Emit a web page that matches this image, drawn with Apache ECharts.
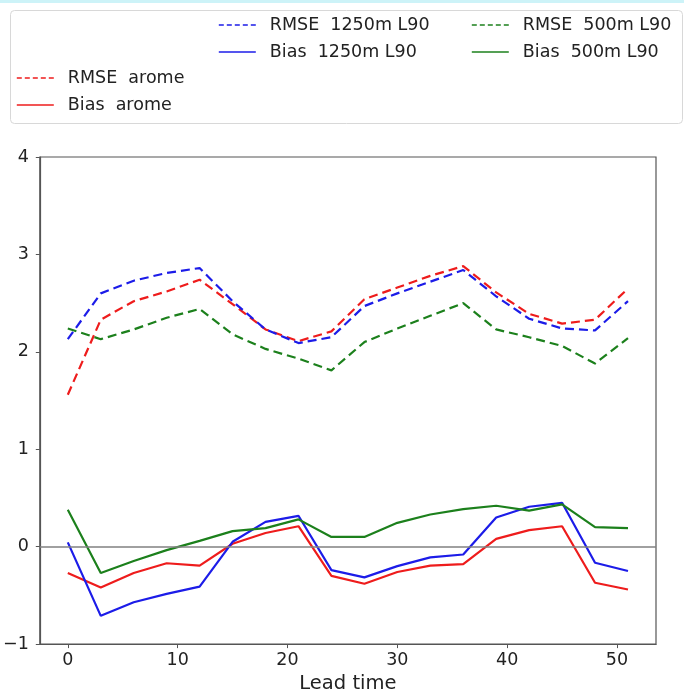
<!DOCTYPE html>
<html>
<head>
<meta charset="utf-8">
<script src="https://cdn.jsdelivr.net/npm/echarts@6/dist/echarts.min.js"></script>
<style>
html,body{margin:0;padding:0;background:#fff;}
#chart{width:684px;height:699px;}
</style>
</head>
<body>
<div id="chart"></div>
<script>
const leadTimes = [0,3,6,9,12,15,18,21,24,27,30,33,36,39,42,45,48,51];
const rmseArome = [1.56,2.33,2.52,2.62,2.74,2.49,2.23,2.11,2.21,2.54,2.66,2.78,2.88,2.61,2.39,2.29,2.33,2.65];
const biasArome = [-0.27,-0.42,-0.27,-0.17,-0.195,0.03,0.14,0.21,-0.30,-0.38,-0.26,-0.195,-0.18,0.08,0.17,0.21,-0.37,-0.44];
const rmse1250 = [2.13,2.60,2.73,2.81,2.86,2.52,2.23,2.09,2.15,2.47,2.60,2.72,2.84,2.57,2.34,2.24,2.22,2.52];
const bias1250 = [0.044,-0.71,-0.57,-0.485,-0.41,0.05,0.255,0.317,-0.24,-0.315,-0.20,-0.11,-0.08,0.30,0.41,0.45,-0.165,-0.25];
const rmse500 = [2.24,2.13,2.23,2.35,2.44,2.18,2.03,1.93,1.81,2.10,2.24,2.37,2.50,2.23,2.15,2.06,1.88,2.14];
const bias500 = [0.38,-0.27,-0.147,-0.035,0.06,0.16,0.19,0.28,0.10,0.10,0.245,0.33,0.385,0.42,0.37,0.435,0.20,0.19];
const xTicks = [0,10,20,30,40,50];
const yTicks = [-1,0,1,2,3,4];

const RED = '#ee1c1c', BLUE = '#1c1ce8', GREEN = '#1c801c';
const FONT = 'DejaVu Sans';

function pairs(vals){ return leadTimes.map((t,i)=>[t, vals[i]]); }
function mkSeries(name, vals, color, dashed){
  return {
    name: name, type: 'line', data: pairs(vals), symbol: 'none', showSymbol: false,
    legendIcon: 'none',
    lineStyle: {color: color, width: 2.2, type: dashed ? [9,5] : 'solid'},
    itemStyle: {color: color},
    animation: false, z: 3
  };
}
function mkLegend(name, left, top, dashed){
  return {
    data: [name], left: left, top: top, padding: 0, itemWidth: 37, itemHeight: 14,
    selectedMode: false,
    itemStyle: {opacity: 0, borderWidth: 0},
    lineStyle: {width: 1.6, type: dashed ? [5,3] : 'solid', opacity: 1},
    textStyle: {fontFamily: FONT, fontSize: 17.5, color: '#222', padding: [0,0,0,9]}
  };
}

const series = [
  mkSeries('RMSE  arome', rmseArome, RED, true),
  mkSeries('Bias  arome', biasArome, RED, false),
  mkSeries('RMSE  1250m L90', rmse1250, BLUE, true),
  mkSeries('Bias  1250m L90', bias1250, BLUE, false),
  mkSeries('RMSE  500m L90', rmse500, GREEN, true),
  mkSeries('Bias  500m L90', bias500, GREEN, false)
];
series[0].markLine = {
  silent: true, symbol: 'none', label: {show: false},
  lineStyle: {color: '#808080', width: 1.5, type: 'solid'},
  data: [{yAxis: 0}], animation: false
};
series[0].z = 2;

const chart = echarts.init(document.getElementById('chart'), null, {renderer: 'canvas'});
chart.setOption({
  backgroundColor: '#fff',
  animation: false,
  graphic: [
    {type: 'rect', left: 0, top: 0, shape: {width: 684, height: 3}, style: {fill: '#cdf3f8'}, z: -10},
    {type: 'rect', left: 10, top: 10, shape: {width: 672, height: 113, r: 4}, style: {fill: '#fff', stroke: '#d8d8d8', lineWidth: 1}, z: -10}
  ],
  legend: [
    mkLegend('RMSE  1250m L90', 218, 16, true),
    mkLegend('Bias  1250m L90', 218, 43, false),
    mkLegend('RMSE  500m L90', 471, 16, true),
    mkLegend('Bias  500m L90', 471, 43, false),
    mkLegend('RMSE  arome', 16, 69, true),
    mkLegend('Bias  arome', 16, 96, false)
  ],
  grid: {left: 38, right: 28, top: 157, bottom: 53, show: true, borderColor: '#555', borderWidth: 1.2, containLabel: false},
  xAxis: {
    type: 'value', min: -2.55, max: 53.55,
    name: 'Lead time', nameLocation: 'middle', nameGap: 25,
    nameTextStyle: {fontFamily: FONT, fontSize: 19.5, color: '#222'},
    axisLine: {show: true, onZero: false, lineStyle: {color: '#555', width: 1.2}},
    axisTick: {show: true, length: 4, inside: false, customValues: xTicks, lineStyle: {color: '#555'}},
    axisLabel: {customValues: xTicks, margin: 7, fontFamily: FONT, fontSize: 17.5, color: '#222'},
    splitLine: {show: false}
  },
  yAxis: {
    type: 'value', min: -1, max: 4, interval: 1,
    axisLine: {show: true, onZero: false, lineStyle: {color: '#555', width: 1.2}},
    axisTick: {show: true, length: 4, inside: false, lineStyle: {color: '#555'}},
    axisLabel: {margin: 11, fontFamily: FONT, fontSize: 17.5, color: '#222',
      formatter: v => (v < 0 ? '\u2212' + Math.abs(v) : String(v))},
    splitLine: {show: false}
  },
  series: series
});
</script>
</body>
</html>
